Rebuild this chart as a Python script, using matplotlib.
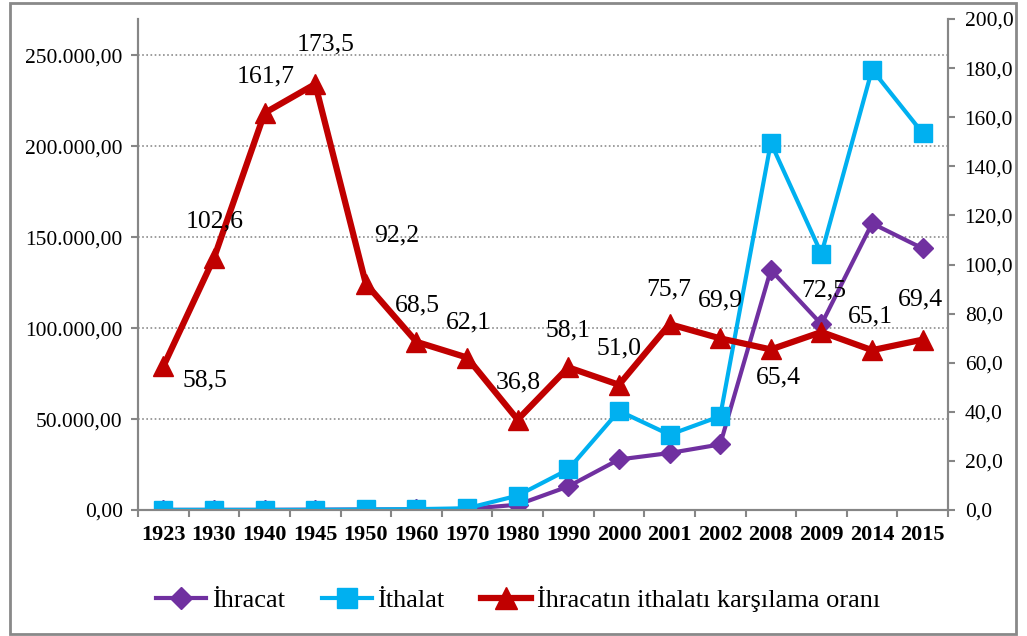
import matplotlib.pyplot as plt
from matplotlib.patches import Rectangle
from matplotlib.ticker import FuncFormatter, FixedLocator
import numpy as np

# ------ data
years = ['1923', '1930', '1940', '1945', '1950', '1960', '1970', '1980',
         '1990', '2000', '2001', '2002', '2008', '2009', '2014', '2015']
ihracat = [51, 71, 81, 168, 263, 321, 588, 2910,
           12959, 27775, 31334, 36059, 132027, 102143, 157610, 143839]
ithalat = [87, 70, 50, 97, 286, 468, 948, 7909,
           22302, 54503, 41399, 51554, 201964, 140928, 242177, 207234]
oran = [58.5, 102.6, 161.7, 173.5, 92.2, 68.5, 62.1, 36.8,
        58.1, 51.0, 75.7, 69.9, 65.4, 72.5, 65.1, 69.4]

# label offsets (pixels) for the ratio labels
lbl_off = [(42, -14), (1, 37), (1, 37), (10, 40), (31, 48), (1, 36), (1, 35), (1, 37),
           (0, 37), (0, 36), (-1, 35), (0, 38), (8, -28), (2, 42), (-2, 34), (-2, 40)]

plt.rcParams['font.family'] = ['Liberation Serif', 'DejaVu Serif']

grey = '#868686'
x = np.arange(len(years))

fig = plt.figure(figsize=(10.27, 6.36), dpi=100)
ax1 = fig.add_axes([138/1027, 1-510/636, (948-138)/1027, (510-19)/636])
ax2 = ax1.twinx()

l1, = ax1.plot(x, ihracat, color='#7030A0', lw=3, marker='D', ms=10, label='İhracat')
l2, = ax1.plot(x, ithalat, color='#00B0F0', lw=3, marker='s', ms=12.5, label='İthalat')
l3, = ax2.plot(x, oran, color='#C00000', lw=4.5, marker='^', ms=14,
               label='İhracatın ithalatı karşılama oranı')

for i, v in enumerate(oran):
    ax2.annotate(('%.1f' % v).replace('.', ','), xy=(i, v), xytext=lbl_off[i],
                 textcoords='offset pixels', ha='center', va='center', fontsize=18.5)

ax1.set_xlim(-0.5, len(years) - 0.5)
ax1.set_ylim(0, 270000)
ax2.set_ylim(0, 200)

ax1.set_yticks(np.arange(0, 250001, 50000))
ax1.yaxis.set_major_formatter(FuncFormatter(
    lambda v, p: '{:,.2f}'.format(v).replace(',', 'X').replace('.', ',').replace('X', '.')))
ax2.set_yticks(np.arange(0, 201, 20))
ax2.yaxis.set_major_formatter(FuncFormatter(lambda v, p: ('%.1f' % v).replace('.', ',')))

ax1.set_xticks(x)
ax1.set_xticklabels(years, fontsize=16, fontweight='bold')
ax1.xaxis.set_minor_locator(FixedLocator(np.arange(-0.5, len(years), 1)))
ax1.tick_params(axis='x', which='major', length=0, pad=11)
ax1.tick_params(axis='x', which='minor', length=5, color=grey, width=1.5)
ax1.tick_params(axis='y', labelsize=15.5, length=5, color=grey, width=1.5, pad=6)
ax2.tick_params(axis='y', labelsize=15.5, length=5, color=grey, width=1.5, pad=7)

ax1.yaxis.grid(True, linestyle=(0, (1, 1.5)), color='#8c8c8c', lw=1.2)
ax1.set_axisbelow(True)

for ax in (ax1, ax2):
    ax.spines['top'].set_visible(False)
    for s in ('left', 'right', 'bottom'):
        ax.spines[s].set_color(grey)
        ax.spines[s].set_linewidth(1.5)

leg = fig.legend(handles=[l1, l2, l3], loc='center', bbox_to_anchor=(518/1027, 1-599/636),
                 ncol=3, frameon=False, fontsize=19, handlelength=1.9, handletextpad=0.2,
                 columnspacing=1.4, markerscale=1.1)

fig.patches.append(Rectangle((10/1027, 2/636), 1006/1027, 631/636, transform=fig.transFigure,
                             fill=False, edgecolor='#898989', lw=2))

fig.savefig('out.png', dpi=100)
